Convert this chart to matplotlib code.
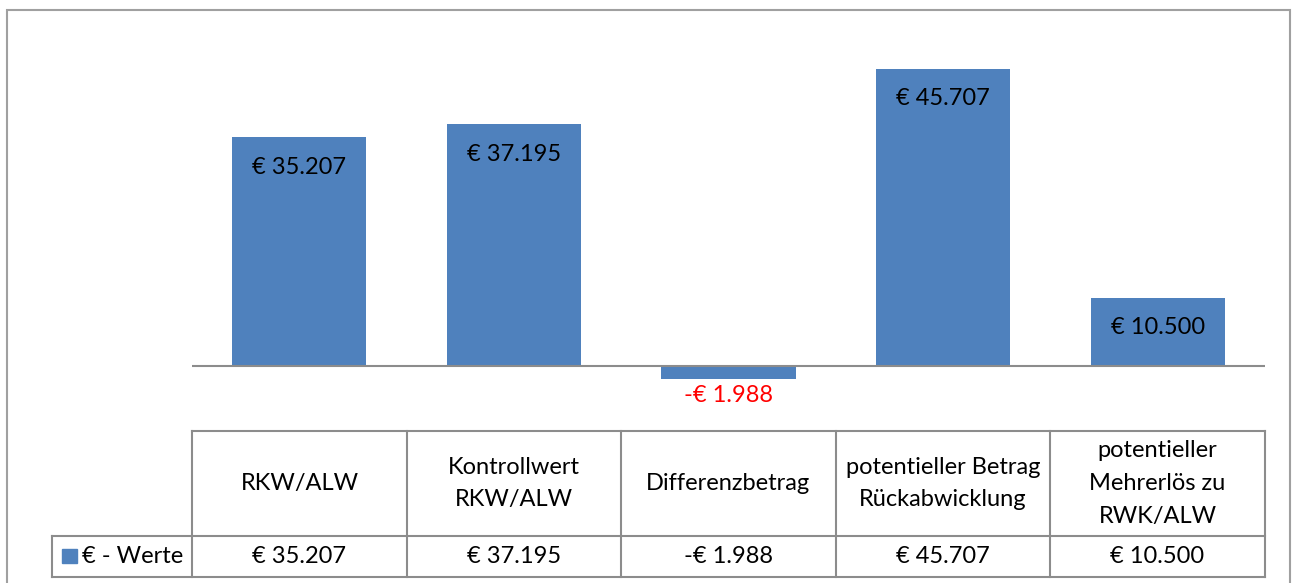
import matplotlib.pyplot as plt
from matplotlib.lines import Line2D
from matplotlib.patches import Rectangle

# data
categories = ["RKW/ALW", "Kontrollwert\nRKW/ALW", "Differenzbetrag",
              "potentieller Betrag\nRückabwicklung", "potentieller\nMehrerlös zu\nRWK/ALW"]
values = [35207, 37195, -1988, 45707, 10500]
value_labels = ["€ 35.207", "€ 37.195", "-€ 1.988", "€ 45.707", "€ 10.500"]
series_name = "€ - Werte"

blue = "#4f81bd"
grid = "#8c8c8c"
plt.rcParams['font.family'] = ['Lato', 'DejaVu Sans']
fs = 17

W, H = 1294, 583
fig = plt.figure(figsize=(W / 100, H / 100), dpi=100)

def fx(px):
    return px / W

def fy(py):
    return 1 - py / H

# outer chart border
fig.add_artist(Rectangle((fx(7), fy(590)), fx(1290 - 7), fy(10) - fy(590),
                         fill=False, edgecolor="#a0a0a0", lw=1.5, transform=fig.transFigure))

left, right = 192, 1265
ax = fig.add_axes([fx(left), fy(398.5), fx(right - left), fy(40.8) - fy(398.5)])
x = range(len(values))
ax.bar(x, values, width=0.625, color=blue)
ax.set_xlim(-0.5, len(values) - 0.5)
ax.set_ylim(-5000, 50000)
ax.axhline(0, color=grid, lw=1.5)
ax.axis("off")

for i, (v, lab) in enumerate(zip(values, value_labels)):
    if v >= 0:
        ax.annotate(lab, (i, v), xytext=(0, -30), textcoords="offset pixels",
                    ha="center", va="center", fontsize=fs, color="black")
    else:
        ax.annotate(lab, (i, v), xytext=(0, -17), textcoords="offset pixels",
                    ha="center", va="center", fontsize=fs, color="red")

# data table below the chart
cols = [192, 407, 621, 836, 1050, 1265]
top, mid, bot = 431, 536, 577
lw = 1.5

def hline(y, x0, x1):
    fig.add_artist(Line2D([fx(x0), fx(x1)], [fy(y), fy(y)], color=grid, lw=lw))

def vline(xp, y0, y1):
    fig.add_artist(Line2D([fx(xp), fx(xp)], [fy(y0), fy(y1)], color=grid, lw=lw))

hline(top, cols[0], cols[-1])
hline(mid, 52, cols[-1])
hline(bot, 52, cols[-1])
for c in cols:
    vline(c, top, bot)
vline(52, mid, bot)

for i in range(len(categories)):
    cx = (cols[i] + cols[i + 1]) / 2
    fig.text(fx(cx), fy((top + mid) / 2), categories[i], ha="center", va="center",
             fontsize=fs, linespacing=1.7)
    fig.text(fx(cx), fy((mid + bot) / 2), value_labels[i], ha="center", va="center",
             fontsize=fs)

# legend key
fig.add_artist(Rectangle((fx(62), fy(563)), fx(15), fy(549) - fy(563), color=blue,
                         transform=fig.transFigure))
fig.text(fx(82), fy((mid + bot) / 2), series_name, ha="left", va="center", fontsize=fs)

fig.savefig("out.png", dpi=100)
